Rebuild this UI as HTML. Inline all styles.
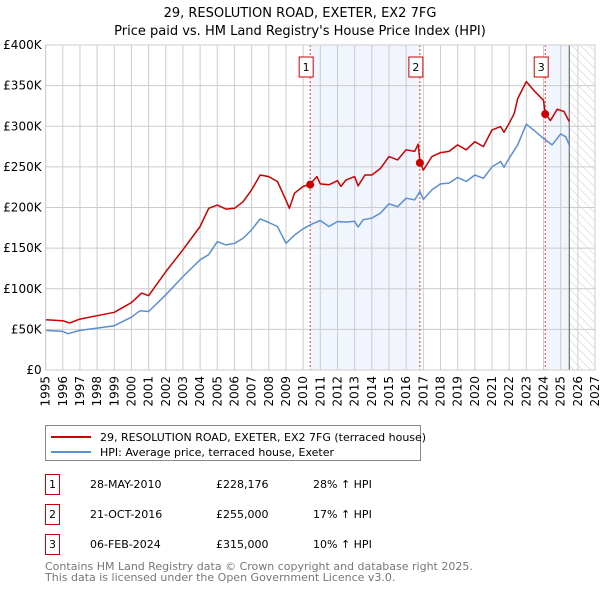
<!DOCTYPE html>
<html><head><meta charset="utf-8"><style>
body{margin:0;background:#fff;font-family:"Liberation Sans","DejaVu Sans",sans-serif;}
svg text{font-family:"DejaVu Sans","Liberation Sans",sans-serif;}
</style></head><body>
<svg id="c" width="600" height="590" xmlns="http://www.w3.org/2000/svg">
<defs><pattern id="hatch" width="6" height="6" patternUnits="userSpaceOnUse" patternTransform="rotate(-45)"><line x1="0" y1="0" x2="0" y2="6" stroke="#ccc" stroke-width="1"/></pattern></defs>
<text x="300" y="17" text-anchor="middle" font-size="13" fill="#000">29, RESOLUTION ROAD, EXETER, EX2 7FG</text>
<text x="300" y="35" text-anchor="middle" font-size="13" fill="#000">Price paid vs. HM Land Registry's House Price Index (HPI)</text>
<g id="plot"></g>
<g>
<rect x="45.5" y="425.5" width="375" height="35" fill="#fff" stroke="#888"/>
<line x1="51" y1="437" x2="91" y2="437" stroke="#cc0000" stroke-width="2"/>
<text x="100" y="441" font-size="11">29, RESOLUTION ROAD, EXETER, EX2 7FG (terraced house)</text>
<line x1="51" y1="452" x2="91" y2="452" stroke="#5b8fd0" stroke-width="2"/>
<text x="100" y="456" font-size="11">HPI: Average price, terraced house, Exeter</text>
</g>
<g id="tbl" font-size="11"></g>
<text x="45" y="570" font-size="11" fill="#777">Contains HM Land Registry data © Crown copyright and database right 2025.</text>
<text x="45" y="581" font-size="11" fill="#777">This data is licensed under the Open Government Licence v3.0.</text>
</svg>
<script>
const hpiYears=[1995,1996,1996.3,1997,1998,1999,2000,2000.5,2001,2002,2003,2004,2004.5,2005,2005.5,2006,2006.5,2007,2007.5,2008,2008.5,2009,2009.5,2010,2010.5,2011,2011.5,2012,2012.5,2013,2013.2,2013.5,2014,2014.5,2015,2015.5,2016,2016.5,2016.8,2017,2017.5,2018,2018.5,2019,2019.5,2020,2020.5,2021,2021.5,2021.7,2022,2022.5,2023,2023.5,2024,2024.5,2025,2025.3,2025.5];
const hpiValues=[48.8,47.5,44.7,48.8,51.6,54.5,65,73,72,92.6,115,135.6,142,158,154,156,162,172.5,186,181.5,176.6,156,166,173.8,179.5,184,176.6,182.8,182,183,176,185,187,193,204.5,201,211.5,209.4,219.7,210,221.7,229,230,237,232,240,236,250,256.6,249.6,260.7,277,302.5,294,285,277,290.6,287,277];
const priceYears=[1995,1996,1996.4,1997,1998,1999,2000,2000.6,2001,2002,2003,2004,2004.5,2005,2005.5,2006,2006.5,2007,2007.5,2008,2008.5,2009,2009.2,2009.5,2010,2010.4,2010.8,2011,2011.5,2012,2012.2,2012.5,2013,2013.2,2013.6,2014,2014.5,2015,2015.5,2016,2016.5,2016.7,2016.8,2017,2017.5,2018,2018.5,2019,2019.5,2020,2020.5,2021,2021.5,2021.7,2022,2022.3,2022.5,2023,2023.5,2024,2024.1,2024.4,2024.8,2025.2,2025.5];
const priceValues=[61.9,60.7,57.8,62.7,66.8,71,83,94.7,91.4,121,148,176.6,199,203,198,199,207,221.7,240,238,232,209,199,217.6,225.8,228.7,238,229,228,233,226,234,238,226.6,240,240,248,262.7,258.6,271,269,278,256.5,246,262.7,267.6,269,277,271,281,275,295.5,299.6,292.6,303.7,316,334,355,342.6,332,316,307,321,318,305.7];
const saleYears=[2010.41,2016.8,2024.1];
const salePrices=[228.176,255,315];
const saleDates=["28-MAY-2010","21-OCT-2016","06-FEB-2024"];
const saleLabels=["£228,176","£255,000","£315,000"];
const saleHpi=["28% ↑ HPI","17% ↑ HPI","10% ↑ HPI"];
const yTicks=[0,50,100,150,200,250,300,350,400];
const yTickLabels=["£0","£50K","£100K","£150K","£200K","£250K","£300K","£350K","£400K"];
const dataEnd=2025.5;
const X0=45.6,X1=595,Y0=370,Y1=45;
const x=y=>X0+(y-1995)/(2027-1995)*(X1-X0);
const yv=v=>Y0-v/400*(Y0-Y1);
const NS="http://www.w3.org/2000/svg";
const g=document.getElementById('plot');
function mk(t,a,p){const e=document.createElementNS(NS,t);for(const k in a)e.setAttribute(k,a[k]);(p||g).appendChild(e);return e;}
// shaded regions
let r=mk('rect',{x:x(saleYears[0]),y:Y1,width:x(saleYears[1])-x(saleYears[0]),height:Y0-Y1,fill:'#eef3fc',opacity:0.8});


r=mk('rect',{x:x(saleYears[2]),y:Y1,width:x(dataEnd)-x(saleYears[2]),height:Y0-Y1,fill:'#eef3fc',opacity:0.8});


r=mk('rect',{x:x(dataEnd),y:Y1,width:X1-x(dataEnd),height:Y0-Y1,fill:'url(#hatch)'});


// grid
for(let yr=1995;yr<=2027;yr++){
 mk('line',{x1:x(yr),x2:x(yr),y1:Y1,y2:Y0,stroke:'#ccc','stroke-width':1});
 const t=mk('text',{x:0,y:0,'font-size':12,'text-anchor':'end',transform:`translate(${x(yr)+4},${Y0+6}) rotate(-90)`});
 t.textContent=yr;
 
 
}
yTicks.forEach((v,i)=>{
 mk('line',{x1:X0,x2:X1,y1:yv(v),y2:yv(v),stroke:'#ccc','stroke-width':1});
 const t=mk('text',{x:X0-4,y:yv(v)+4,'font-size':12,'text-anchor':'end'});
 t.textContent=yTickLabels[i];
 
 
});
mk('line',{x1:x(dataEnd),x2:x(dataEnd),y1:Y1,y2:Y0,stroke:'#556',"stroke-width":1});
// sale lines
saleYears.forEach((s,i)=>{
 const l=mk('line',{x1:x(s),x2:x(s),y1:Y1,y2:Y0,stroke:'#e04040','stroke-width':1,'stroke-dasharray':'2,2'});
 
 
});
function path(xs,vs,col,name){
 const d=xs.map((a,i)=>(i?'L':'M')+x(a).toFixed(1)+','+yv(vs[i]).toFixed(1)).join('');
 const p=mk('path',{d:d,fill:'none',stroke:col,'stroke-width':1.5,'stroke-linejoin':'round'});
 
 
}
path(hpiYears,hpiValues,'#5b8fd0','hpi-line');
path(priceYears,priceValues,'#cc0000','price-paid-line');
saleYears.forEach((s,i)=>{
 const c=mk('circle',{cx:x(s),cy:yv(salePrices[i]),r:4,fill:'#cc0000'});
 
 
 const bx=x(s)-4;
 const b=mk('rect',{x:bx-7,y:57,width:14,height:20,fill:'#fff',stroke:'#cc0000'});
 
 
 const t=mk('text',{x:bx,y:71,'font-size':11,'text-anchor':'middle'});
 t.textContent=i+1;
});
mk('rect',{x:X0,y:Y1,width:X1-X0,height:Y0-Y1,fill:'none',stroke:'#ccc'});
// table
const tb=document.getElementById('tbl');
saleDates.forEach((d,i)=>{
 const cy=484+i*30;
 const b=mk('rect',{x:45.5,y:cy-9.5,width:14,height:20,fill:'#fff',stroke:'#cc0000'},tb);
 
 
 let t=mk('text',{x:52.5,y:cy+4,'text-anchor':'middle'},tb);t.textContent=i+1;
 t=mk('text',{x:90,y:cy+4},tb);t.textContent=d;
 
 
 t=mk('text',{x:216,y:cy+4},tb);t.textContent=saleLabels[i];
 
 
 t=mk('text',{x:313,y:cy+4},tb);t.textContent=saleHpi[i];
 
 
});
</script>
</body></html>
